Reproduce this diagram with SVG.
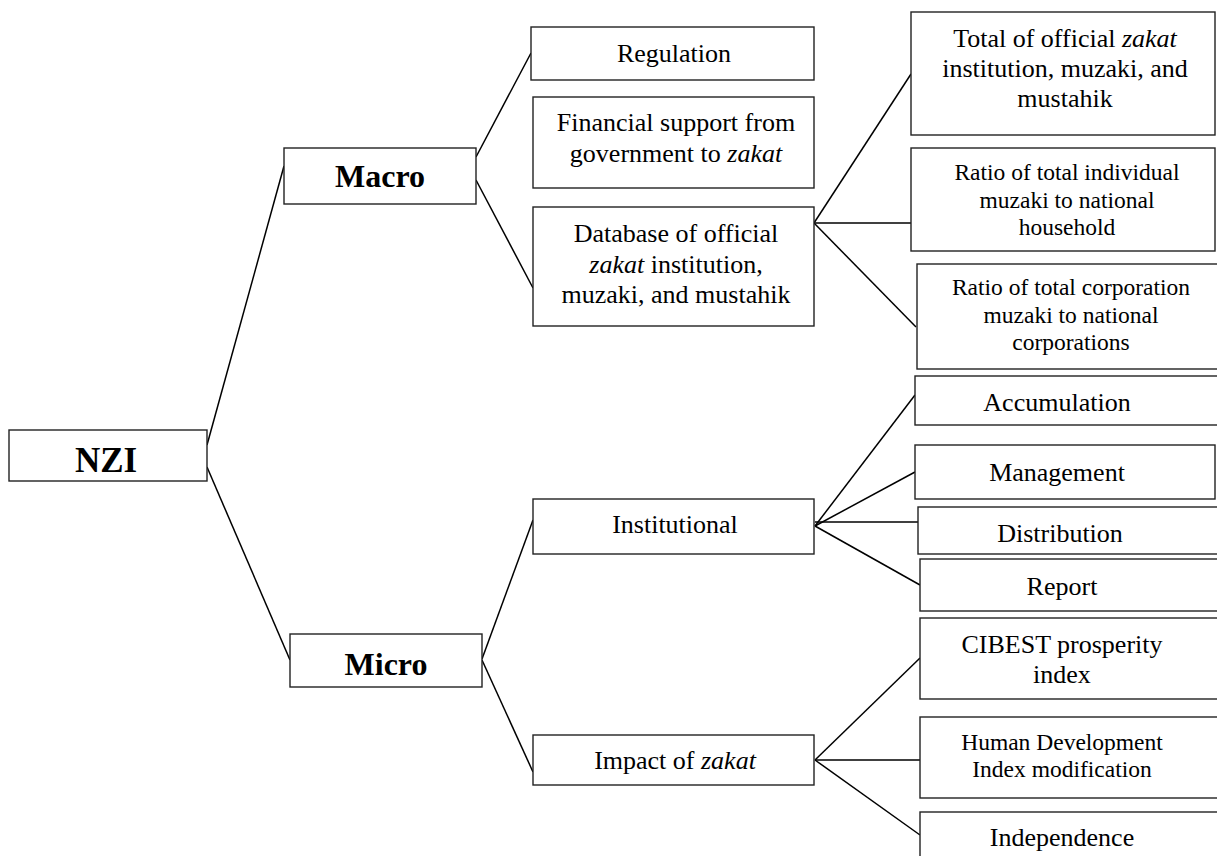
<svg xmlns="http://www.w3.org/2000/svg" width="1217" height="856" viewBox="0 0 1217 856">
<style>
.box{fill:#fff;stroke:#222;stroke-width:1.4}
.t{font-family:"Liberation Serif","Times New Roman",serif;font-size:26px;fill:#000;text-anchor:middle}
.s{font-size:23.5px}
.b{font-weight:bold;font-size:32px}
.i{font-style:italic}
#connectors line{stroke:#000;stroke-width:1.5}
</style>
<rect width="1217" height="856" fill="#fff"/>
<g id="connectors">
<line x1="207" y1="445" x2="284" y2="166"/>
<line x1="207" y1="467" x2="290" y2="660"/>
<line x1="476" y1="157" x2="531" y2="53"/>
<line x1="476" y1="180" x2="533" y2="288"/>
<line x1="814" y1="223" x2="911" y2="74"/>
<line x1="814" y1="223" x2="911" y2="223"/>
<line x1="814" y1="223" x2="916" y2="327"/>
<line x1="482" y1="659" x2="533" y2="520"/>
<line x1="482" y1="660" x2="533" y2="772"/>
<line x1="815" y1="526" x2="915" y2="395"/>
<line x1="815" y1="526" x2="915" y2="472"/>
<line x1="815" y1="522" x2="920" y2="522"/>
<line x1="815" y1="526" x2="920" y2="585"/>
<line x1="815" y1="760" x2="920" y2="658"/>
<line x1="815" y1="760" x2="920" y2="760"/>
<line x1="815" y1="760" x2="920" y2="835"/>
</g>
<g id="nzi"><rect class="box" x="9" y="430" width="198" height="51"/><text class="t b" x="106" y="472" style="font-size:35px">NZI</text></g>
<g id="macro"><rect class="box" x="284" y="148" width="192" height="56"/><text class="t b" x="380" y="187">Macro</text></g>
<g id="micro"><rect class="box" x="290" y="634" width="192" height="53"/><text class="t b" x="386" y="675">Micro</text></g>
<g id="regulation"><rect class="box" x="531" y="27" width="283" height="53"/><text class="t" x="674" y="62">Regulation</text></g>
<g id="financial"><rect class="box" x="533" y="97" width="281" height="91"/><text class="t" x="676" y="131">Financial support from</text><text class="t" x="676" y="162">government to <tspan class="i">zakat</tspan></text></g>
<g id="database"><rect class="box" x="533" y="207" width="281" height="119"/><text class="t" x="676" y="242">Database of official</text><text class="t" x="676" y="273"><tspan class="i">zakat</tspan> institution,</text><text class="t" x="676" y="303">muzaki, and mustahik</text></g>
<g id="total"><rect class="box" x="911" y="12" width="304" height="123"/><text class="t" x="1065" y="47">Total of official <tspan class="i">zakat</tspan></text><text class="t" x="1065" y="77">institution, muzaki, and</text><text class="t" x="1065" y="107">mustahik</text></g>
<g id="ratio-individual"><rect class="box" x="911" y="148" width="304" height="103"/><text class="t s" x="1067" y="180">Ratio of total individual</text><text class="t s" x="1067" y="208">muzaki to national</text><text class="t s" x="1067" y="235">household</text></g>
<g id="ratio-corporation"><rect class="box" x="917" y="264" width="310" height="105"/><text class="t s" x="1071" y="295">Ratio of total corporation</text><text class="t s" x="1071" y="323">muzaki to national</text><text class="t s" x="1071" y="350">corporations</text></g>
<g id="accumulation"><rect class="box" x="915" y="376" width="312" height="49"/><text class="t" x="1057" y="411">Accumulation</text></g>
<g id="management"><rect class="box" x="915" y="445" width="300" height="54"/><text class="t" x="1057" y="481">Management</text></g>
<g id="distribution"><rect class="box" x="918" y="507" width="309" height="47"/><text class="t" x="1060" y="542">Distribution</text></g>
<g id="report"><rect class="box" x="920" y="559" width="307" height="52"/><text class="t" x="1062" y="595">Report</text></g>
<g id="institutional"><rect class="box" x="533" y="499" width="281" height="55"/><text class="t" x="675" y="533">Institutional</text></g>
<g id="impact"><rect class="box" x="533" y="735" width="281" height="50"/><text class="t" x="675" y="769">Impact of <tspan class="i">zakat</tspan></text></g>
<g id="cibest"><rect class="box" x="920" y="618" width="307" height="81"/><text class="t" x="1062" y="653">CIBEST prosperity</text><text class="t" x="1062" y="683">index</text></g>
<g id="hdi"><rect class="box" x="920" y="717" width="307" height="81"/><text class="t s" x="1062" y="750">Human Development</text><text class="t s" x="1062" y="777">Index modification</text></g>
<g id="independence"><rect class="box" x="920" y="812" width="307" height="60"/><text class="t" x="1062" y="846">Independence</text></g>
</svg>
